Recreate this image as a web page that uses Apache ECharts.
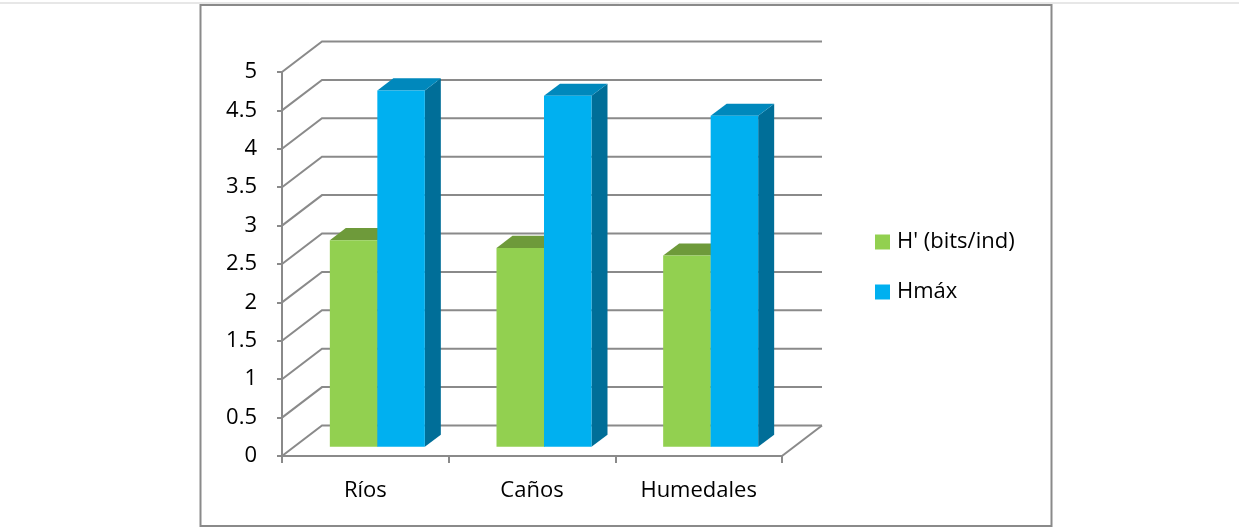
<!DOCTYPE html>
<html>
<head>
<meta charset="utf-8">
<script src="https://cdn.jsdelivr.net/npm/echarts@6/dist/echarts.min.js"></script>
<style>
html,body{margin:0;padding:0;background:#fff;}
#c{width:1239px;height:529px;}
</style>
</head>
<body>
<div id="c"></div>
<script>
// ---- data ----
const categories = ['Ríos', 'Caños', 'Humedales'];
const hPrime = [2.69, 2.59, 2.49];
const hMax = [4.64, 4.57, 4.31];
const yTicks = [0, 0.5, 1, 1.5, 2, 2.5, 3, 3.5, 4, 4.5, 5];
const seriesNames = ["H' (bits/ind)", 'Hmáx'];

// ---- style ----
const FONT = 'Open Sans';
const GRID_COLOR = '#8a8a8a';
const DEPTH_X = 40, DEPTH_Y = -30.5;   // full floor depth in px
const BAR_FRONT = 0.3, BAR_DEPTH = 0.4; // fraction of floor depth
const BAR_W = 0.285;                   // fraction of category width
const colors = {
  green: {front: '#92D050', top: '#6E9A3A', side: '#5E8530'},
  blue: {front: '#00B0F0', top: '#0088BC', side: '#006E98'}
};

const chart = echarts.init(document.getElementById('c'), null, {renderer: 'canvas'});

function wallItem(params, api) {
  const v = api.value(0);
  const cs = params.coordSys;
  const p = api.coord([0, v]);
  const y = p[1];
  const x0 = cs.x, x1 = cs.x + cs.width;
  const style = {stroke: GRID_COLOR, lineWidth: 2, fill: null};
  const children = [{
    type: 'polyline',
    shape: {points: [[x0, y], [x0 + DEPTH_X, y + DEPTH_Y], [x1 + DEPTH_X, y + DEPTH_Y]]},
    style: style
  }];
  if (v === 0) {
    children.push({
      type: 'line',
      shape: {x1: x1, y1: y, x2: x1 + DEPTH_X, y2: y + DEPTH_Y},
      style: style
    });
  }
  return {type: 'group', children: children};
}

function barRenderer(side, col) {
  return function (params, api) {
    const ci = api.value(0);
    const v = api.value(1);
    const top = api.coord([ci, v]);
    const bot = api.coord([ci, 0]);
    const cw = api.size([1, 0])[0];
    const bw = cw * BAR_W;
    const ox = DEPTH_X * BAR_FRONT, oy = DEPTH_Y * BAR_FRONT;
    const dx = DEPTH_X * BAR_DEPTH, dy = DEPTH_Y * BAR_DEPTH;
    const xL = (side === 0 ? top[0] - bw : top[0]) + ox;
    const xR = xL + bw;
    const yT = top[1] + oy;
    const yB = bot[1] + oy;
    return {
      type: 'group',
      children: [
        {type: 'polygon', shape: {points: [[xR, yT], [xR + dx, yT + dy], [xR + dx, yB + dy], [xR, yB]]},
         style: {fill: col.side}},
        {type: 'polygon', shape: {points: [[xL, yT], [xR, yT], [xR + dx, yT + dy], [xL + dx, yT + dy]]},
         style: {fill: col.top}},
        {type: 'rect', shape: {x: xL, y: yT, width: bw, height: yB - yT},
         style: {fill: col.front}}
      ]
    };
  };
}

const option = {
  backgroundColor: '#fff',
  animation: false,
  textStyle: {fontFamily: FONT},
  graphic: [
    {type: 'line', shape: {x1: 0, y1: 3, x2: 1239, y2: 3}, style: {stroke: '#cfcfcf', lineWidth: 1}, silent: true},
    {type: 'rect', shape: {x: 200.5, y: 5, width: 851, height: 521}, style: {fill: null, stroke: '#8a8a8a', lineWidth: 2}, silent: true}
  ],
  grid: {left: 282, top: 72, width: 500, height: 384},
  legend: {
    orient: 'vertical',
    left: 875,
    top: 231,
    padding: 0,
    itemWidth: 15,
    itemHeight: 15,
    itemGap: 28,
    icon: 'rect',
    data: seriesNames,
    textStyle: {fontFamily: FONT, fontSize: 22, color: '#000', lineHeight: 22, padding: [0, 0, 0, 2]}
  },
  xAxis: {
    type: 'category',
    data: categories,
    boundaryGap: true,
    axisLine: {show: true, lineStyle: {color: GRID_COLOR, width: 2}},
    axisTick: {show: true, length: 7, interval: 0, lineStyle: {color: GRID_COLOR, width: 2}},
    axisLabel: {fontFamily: FONT, fontSize: 22, color: '#000', margin: 24},
    splitLine: {show: false}
  },
  yAxis: {
    type: 'value',
    min: 0, max: 5, interval: 0.5,
    axisLine: {show: true, lineStyle: {color: GRID_COLOR, width: 2}},
    axisTick: {show: true, length: 5, lineStyle: {color: GRID_COLOR, width: 2}},
    axisLabel: {fontFamily: FONT, fontSize: 22, color: '#000', margin: 25},
    splitLine: {show: false}
  },
  series: [
    {
      type: 'custom',
      name: 'walls',
      silent: true,
      renderItem: wallItem,
      data: yTicks.map(t => [t]),
      encode: {y: 0},
      z: 1
    },
    {
      type: 'custom',
      name: seriesNames[0],
      renderItem: barRenderer(0, colors.green),
      itemStyle: {color: colors.green.front},
      data: hPrime.map((v, i) => [i, v]),
      encode: {x: 0, y: 1},
      z: 2
    },
    {
      type: 'custom',
      name: seriesNames[1],
      renderItem: barRenderer(1, colors.blue),
      itemStyle: {color: colors.blue.front},
      data: hMax.map((v, i) => [i, v]),
      encode: {x: 0, y: 1},
      z: 3
    }
  ]
};
chart.setOption(option);
</script>
</body>
</html>
